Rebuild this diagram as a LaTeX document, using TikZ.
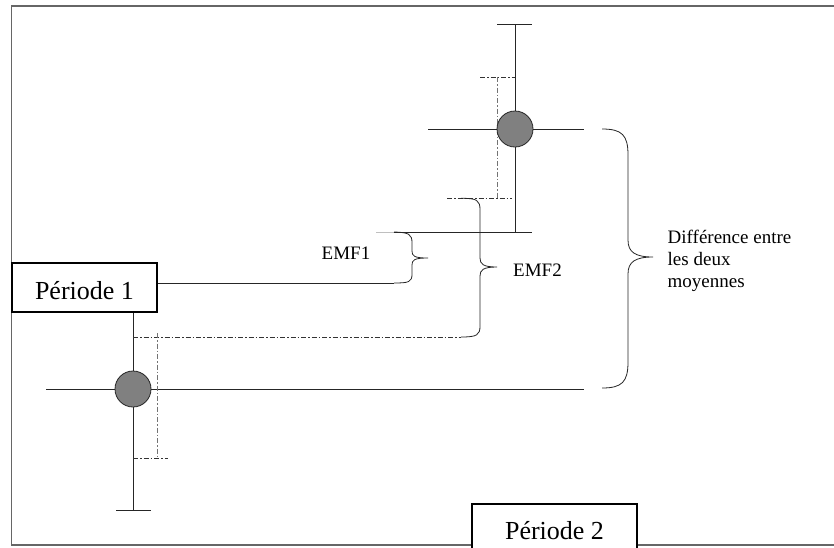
\documentclass[tikz,border=0pt]{standalone}
\usepackage{fontspec}
\setmainfont{Liberation Serif}
\begin{document}
\begin{tikzpicture}[x=1pt,y=-1pt,
  ln/.style={draw=black!85,line width=0.8pt},
  dd/.style={draw=black!80,line width=0.8pt,dash pattern=on 5pt off 2pt on 1.5pt off 2pt},
  ddv/.style={draw=black!55,line width=0.8pt,dash pattern=on 5pt off 2pt on 1.5pt off 2pt},
  dot/.style={circle,draw=black!85,fill=black!50,line width=0.8pt,minimum size=36pt,inner sep=0pt},
  perbox/.style={draw=black,fill=white,line width=1.6pt,font=\fontsize{26}{30}\selectfont,inner sep=0pt},
  lbl/.style={font=\fontsize{19}{21.7}\selectfont,inner sep=0pt},
  bracestyle/.style={draw=black!85,line width=0.8pt}]
\useasboundingbox (0,0) rectangle (834,547);
\fill[white] (0,0) rectangle (834,547);
% frame
\draw[draw=black!60,line width=1.5pt] (845,6) -- (11.5,6) -- (11.5,545) -- (845,545);

% key coordinates
\coordinate (t2) at (515,24);
\coordinate (b2) at (515,232);
\coordinate (t1) at (133,312);
\coordinate (b1) at (133,510);
\coordinate (e1t) at (394,232);
\coordinate (e1b) at (394,283);
\coordinate (e2t) at (461,198.3);
\coordinate (e2b) at (461,337);
\coordinate (dt) at (602,129);
\coordinate (db) at (602,388);

% Period 2 marker (top)
\draw[ln] (t2) -- (b2);
\draw[ln] (497,24) -- (532,24);
\draw[draw=black!25,line width=0.8pt] (376,232) -- (e1t);
\draw[ln] (e1t) -- (532,232);
\draw[ln] (428,129) -- (584,129);
\draw[dd] (480,77) -- (515,77);
\draw[ddv] (497,77) -- (497,198.3);
\draw[dd] (447,198.3) -- (512,198.3);
\node[dot] (c2) at (515,129) {};

% Period 1 box and marker (bottom)
\node[perbox,minimum width=145pt,minimum height=49pt,text height=25pt] (p1) at (84.5,287.5) {Période 1};
\draw[ln] (p1.south -| t1) -- (b1);
\draw[ln] (116,510) -- (151,510);
\draw[ln] (46,389) -- (584,389);
\draw[ln] (p1.east |- e1b) -- (e1b);
\draw[dd] (133,337) -- (e2b);
\draw[ddv] (157,333) -- (157,458);
\draw[dd] (133,458) -- (168,458);
\node[dot] (c1) at (133,389) {};

% braces
\draw[bracestyle] (e1t) .. controls (409,232.5) and (412,234) .. (412,243) -- (412,251)
  .. controls (412,256) and (414,258) .. (428,258)
  .. controls (414,258) and (412,260) .. (412,265) -- (412,274)
  .. controls (412,282) and (409,283) .. (e1b);
\draw[bracestyle] (e2t) .. controls (477,198.3) and (480,200) .. (480,210) -- (480,258)
  .. controls (480,264) and (483,267) .. (497,267)
  .. controls (483,267) and (480,270) .. (480,276) -- (480,326)
  .. controls (480,335) and (477,337) .. (e2b);
\draw[bracestyle] (dt) .. controls (622,129) and (628,135) .. (628,155) -- (628,240)
  .. controls (628,252) and (635,257) .. (653,257)
  .. controls (635,257) and (628,262) .. (628,274) -- (628,362)
  .. controls (628,382) and (622,388) .. (db);

% labels
\node[lbl,anchor=base west] (emf1) at (321.5,259) {EMF1};
\node[lbl,anchor=base west] (emf2) at (513,276) {EMF2};
\node[lbl,anchor=base west,align=left] (diff) at (667.5,287) {Différence entre\\les deux\\moyennes};

% Period 2 box
\node[perbox,minimum width=165pt,minimum height=54pt,text height=18pt] (p2) at (554.5,531) {Période 2};
\end{tikzpicture}
\end{document}
